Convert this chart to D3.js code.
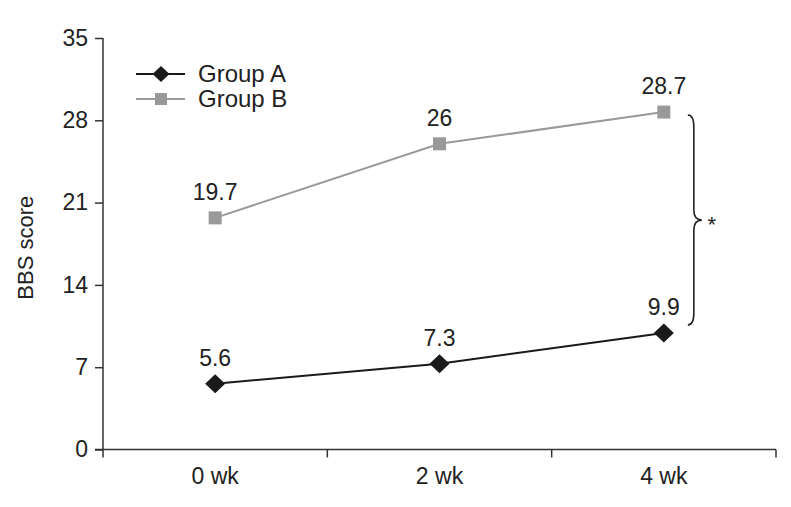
<!DOCTYPE html>
<html><head><meta charset="utf-8">
<script src="https://cdn.jsdelivr.net/npm/d3@7"></script>
<style>body{margin:0;background:#fff;}svg{display:block;font-family:"Liberation Sans",Arial,sans-serif;}</style>
</head><body>
<svg id="c" width="791" height="507"></svg>
<script>
const categories = ["0 wk", "2 wk", "4 wk"];
const groupA = [5.6, 7.3, 9.9];
const groupB = [19.7, 26, 28.7];
const yTicks = [0, 7, 14, 21, 28, 35];
const seriesNames = ["Group A", "Group B"];
const sigLabel = "*";

(function () {
const svg = d3.select("#c");
const x = d3.scaleBand().domain(categories).range([103, 776]);
const y = d3.scaleLinear().domain([0, 35]).range([449.5, 38]);
const ink = "#222";
const FS = 23;

// axes
const yAxis = svg.append("g").attr("transform", "translate(103,0)")
  .call(d3.axisLeft(y).tickValues(yTicks).tickSize(8).tickPadding(7).tickFormat(d3.format("d")));
yAxis.select(".domain").attr("stroke", "#333").attr("stroke-width", 1.5).attr("d", `M0,${y(35)}V${y(0)+8}`);
yAxis.selectAll(".tick line").attr("stroke", "#333").attr("stroke-width", 1.5);
yAxis.selectAll("text").attr("font-size", FS).attr("fill", ink).attr("font-family", "Liberation Sans, Arial, sans-serif");

const xAxis = svg.append("g").attr("transform", `translate(0,${y(0)})`)
  .call(d3.axisBottom(x).tickSize(0).tickPadding(18));
xAxis.select(".domain").attr("stroke", "#333").attr("stroke-width", 1.5).attr("d", `M95,0H776`);
xAxis.selectAll("text").attr("font-size", FS).attr("fill", ink).attr("font-family", "Liberation Sans, Arial, sans-serif");
const bounds = categories.map(c => x(c) + x.bandwidth());
xAxis.selectAll(".bt").data(bounds).enter().append("line")
  .attr("x1", d => d).attr("x2", d => d).attr("y1", 0).attr("y2", 8)
  .attr("stroke", "#333").attr("stroke-width", 1.5);

svg.append("text").attr("transform", `translate(33,${(y(35)+y(0))/2 + 4}) rotate(-90)`)
  .attr("text-anchor", "middle").attr("font-size", 22).attr("fill", ink).text("BBS score");

const cx = c => x(c) + x.bandwidth() / 2;
const line = d3.line().x((d, i) => cx(categories[i])).y(d => y(d));

// Group B
svg.append("path").datum(groupB).attr("d", line).attr("fill", "none").attr("stroke", "#9a9a9a").attr("stroke-width", 2);
svg.selectAll(".mb").data(groupB).enter().append("rect")
  .attr("x", (d, i) => cx(categories[i]) - 6.5).attr("y", d => y(d) - 6.5)
  .attr("width", 13).attr("height", 13).attr("fill", "#999");
// Group A
svg.append("path").datum(groupA).attr("d", line).attr("fill", "none").attr("stroke", "#1a1a1a").attr("stroke-width", 2);
const diamond = "M0,-9.5L10,0L0,9.5L-10,0Z";
svg.selectAll(".ma").data(groupA).enter().append("path")
  .attr("d", diamond).attr("transform", (d, i) => `translate(${cx(categories[i])},${y(d)})`).attr("fill", "#1a1a1a");

// value labels
[groupA, groupB].forEach(s => {
  svg.selectAll(null).data(s).enter().append("text")
    .attr("x", (d, i) => cx(categories[i])).attr("y", d => y(d) - 18)
    .attr("text-anchor", "middle").attr("font-size", FS).attr("fill", ink).text(d => d);
});

// legend
const lg = svg.append("g");
[0, 1].forEach(i => {
  const ly = 74 + i * 25;
  lg.append("line").attr("x1", 136).attr("x2", 185).attr("y1", ly).attr("y2", ly)
    .attr("stroke", i ? "#9a9a9a" : "#1a1a1a").attr("stroke-width", 2);
  if (i === 0) lg.append("path").attr("d", diamond).attr("transform", `translate(161,${ly}) scale(0.85)`).attr("fill", "#1a1a1a");
  else lg.append("rect").attr("x", 155).attr("y", ly - 6).attr("width", 12).attr("height", 12).attr("fill", "#999");
  lg.append("text").attr("x", 198).attr("y", ly + 8).attr("font-size", 24).attr("fill", ink).text(seriesNames[i]);
});

// brace
const last = categories[categories.length - 1];
const bx = cx(last) + 24;
const bTop = y(groupB[2]) + 3, bBot = y(groupA[2]) - 8, mid = (bTop + bBot) / 2;
const w = 14;
svg.append("path").attr("fill", "none").attr("stroke", ink).attr("stroke-width", 1.6)
  .attr("d", `M${bx},${bTop} Q${bx+6},${bTop} ${bx+6},${bTop+12} L${bx+6},${mid-10} Q${bx+6},${mid} ${bx+w},${mid} Q${bx+6},${mid} ${bx+6},${mid+10} L${bx+6},${bBot-12} Q${bx+6},${bBot} ${bx},${bBot}`);
svg.append("text").attr("x", bx + w + 10).attr("y", mid + 12).attr("text-anchor", "middle")
  .attr("font-size", 22).attr("fill", ink).text(sigLabel);
})();
</script>
</body></html>
